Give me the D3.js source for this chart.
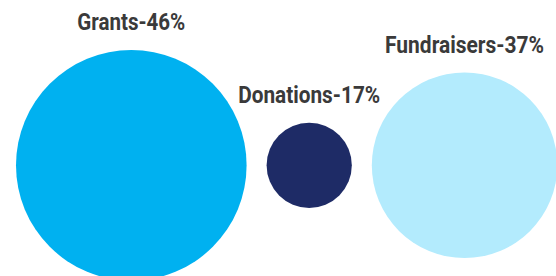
<!DOCTYPE html>
<html>
<head>
<meta charset="utf-8">
<script src="https://cdn.jsdelivr.net/npm/d3@7/dist/d3.min.js"></script>
<style>
  html, body { margin: 0; padding: 0; background: #fff; }
  svg { display: block; }
</style>
</head>
<body>
<svg id="chart" width="556" height="276"></svg>
<script>
const categories = ["Grants", "Donations", "Fundraisers"];
const values = [46, 17, 37];
const colors = ["#00b1f0", "#1e2b66", "#b3ebfd"];
const labelWidths = [108, 142, 159];

const svg = d3.select("#chart");
const r = d3.scaleLinear().domain([0, 46]).range([0, 115.3]);
const gap = 20, startX = 16, cy = 165.3;

let x = startX;
const nodes = categories.map((c, i) => {
  const rad = r(values[i]);
  const cx = x + rad;
  x = cx + rad + gap;
  return { name: c, value: values[i], color: colors[i], r: rad, cx, lw: labelWidths[i] };
});

svg.selectAll("circle").data(nodes).join("circle")
  .attr("cx", d => d.cx)
  .attr("cy", cy)
  .attr("r", d => d.r)
  .attr("fill", d => d.color);

svg.selectAll("text").data(nodes).join("text")
  .attr("x", d => d.cx)
  .attr("y", d => cy - d.r - 20)
  .attr("text-anchor", "middle")
  .attr("font-family", "Roboto, sans-serif")
  .attr("font-weight", 700)
  .attr("font-size", 23)
  .attr("fill", "#3a3a3a")
  .attr("textLength", d => d.lw)
  .attr("lengthAdjust", "spacingAndGlyphs")
  .text(d => `${d.name}-${d.value}%`);
</script>
</body>
</html>
